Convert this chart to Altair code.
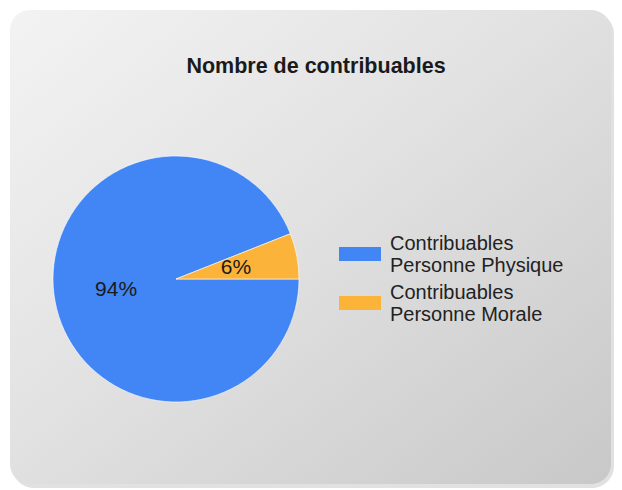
import math
import altair as alt
import pandas as pd

title_text = "Nombre de contribuables"
categories = ["Contribuables Personne Physique", "Contribuables Personne Morale"]
values = [94, 6]
stack_order = [1, 0]
colors = ["#4285F4", "#FBB33A"]

df = pd.DataFrame({
    "cat": categories,
    "value": values,
    "ord": stack_order,
    "label": [f"{v}%" for v in values],
})

total = sum(values)
start = math.pi / 2 - 2 * math.pi * values[1] / total
theta_scale = alt.Scale(range=[start, start + 2 * math.pi])

FONT = "Liberation Sans"
W, H = 606, 480
CX, CY = 168, 271
R = 123

bg = pd.DataFrame({"k": [0]})
shadow = alt.Chart(bg).mark_rect(
    cornerRadius=22, fill="#9a9a9a", opacity=0.3
).encode(x=alt.value(4), x2=alt.value(606), y=alt.value(4), y2=alt.value(480))
card = alt.Chart(bg).mark_rect(
    cornerRadius=20,
    fill=alt.Gradient(
        gradient="linear",
        x1=0, y1=0, x2=1, y2=1,
        stops=[
            alt.GradientStop(color="#f3f3f3", offset=0),
            alt.GradientStop(color="#e2e2e2", offset=0.45),
            alt.GradientStop(color="#c8c8c8", offset=1),
        ],
    ),
).encode(x=alt.value(2), x2=alt.value(603), y=alt.value(2), y2=alt.value(476))

title = alt.Chart(pd.DataFrame({"t": [title_text]})).mark_text(
    font=FONT, fontSize=21.5, fontWeight="bold", color="#1a1a1a"
).encode(text="t:N", x=alt.value(308), y=alt.value(59))

base = alt.Chart(df).encode(
    theta=alt.Theta("value:Q", stack=True, scale=theta_scale),
    order=alt.Order("ord:Q"),
)

pie = base.mark_arc(outerRadius=R, stroke="#ffffff", strokeWidth=0.6).encode(
    color=alt.Color(
        "cat:N",
        scale=alt.Scale(domain=categories, range=colors),
        sort=categories,
        legend=alt.Legend(
            title=None,
            orient="none",
            legendX=342,
            legendY=226,
            symbolType="M-4.2,0.6L4.2,0.6L4.2,3.4L-4.2,3.4Z",
            symbolSize=100,
            symbolStrokeWidth=0,
            symbolOpacity=1,
            labelFont=FONT,
            labelFontSize=20,
            labelColor="#222222",
            labelOffset=20,
            rowPadding=7,
            padding=0,
            labelLimit=300,
            labelExpr="[substring(datum.label, 0, indexof(datum.label, ' ')), substring(datum.label, indexof(datum.label, ' ') + 1)]",
        ),
    ),
    x=alt.value(CX),
    y=alt.value(CY),
)

labels = base.mark_text(radius=61, font=FONT, fontSize=21, color="#1a1a1a").encode(
    text="label:N",
    x=alt.value(CX),
    y=alt.value(CY),
)

chart = alt.layer(shadow, card, title, pie, labels).properties(
    width=W, height=H, padding=0, autosize=alt.AutoSizeParams(type="none"),
    background="#ffffff",
).configure_view(stroke=None)

chart.save("out.html", embed_options={"renderer": "svg", "actions": False})
